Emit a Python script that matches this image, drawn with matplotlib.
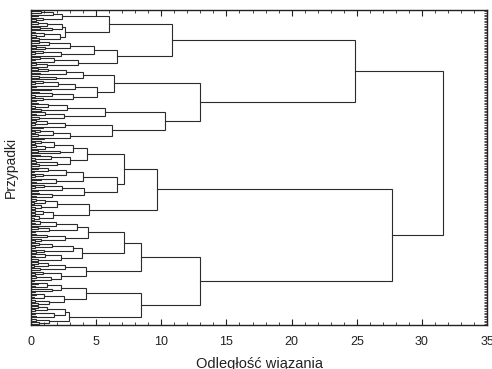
import matplotlib
matplotlib.use("Agg")
import matplotlib.pyplot as plt

plt.rcParams['font.family'] = ['Liberation Sans', 'DejaVu Sans']

# tree nodes are (linkage distance, upper child, lower child); 0 is a single case
A1a_top = (2.4, (1.7, (0.8, 0, 0), (0.5, 0, 0)), (0.9, 0, (0.4, 0, 0)))
A1a_bot = (2.6, (2.4, (1.2, (0.5, 0, 0), 0), (1.6, (0.7, 0, 0), 0)),
           (2.2, (1.0, (0.3, 0, 0), (0.4, 0, 0)), (0.6, 0, 0)))
A1b_top = (4.8, (3.0, (1.4, (0.6, 0, 0), 0), (1.1, (0.4, 0, 0), 0)),
           (2.3, (0.9, 0, (0.3, 0, 0)), 0))
A1b_bot = (3.6, (1.8, (0.7, 0, (0.3, 0, 0)), 0), (1.2, (0.4, 0, 0), 0))

A2a_top = (4.0, (2.7, (1.3, (0.5, 0, 0), 0), (0.7, 0, 0)), (1.9, (0.6, 0, 0), 0))
A2a_bot = (5.1, (3.4, (2.1, (0.9, 0, (0.3, 0, 0)), (0.4, 0, 0)), (1.5, 0, 0)),
           (3.2, (1.6, (0.6, 0, 0), (0.3, 0, 0)), (0.9, 0, (0.4, 0, 0))))
A2b_top = (5.7, (2.8, (1.3, (0.5, 0, 0), (0.3, 0, 0)), (0.8, 0, 0)),
           (2.5, (1.1, 0, (0.4, 0, 0)), (0.6, 0, 0)))
A2b_bot = (6.25, (2.6, (1.2, (0.4, 0, 0), (0.3, 0, 0)), (0.9, 0, 0)),
           (3.0, (1.7, (0.7, 0, (0.3, 0, 0)), (0.5, 0, 0)), (1.0, 0, 0)))

B1a_top = (4.3, (3.2, (1.8, (0.8, 0, (0.3, 0, 0)), (1.1, (0.4, 0, 0), 0)), (2.2, (0.5, 0, 0), 0)),
           (3.0, (1.5, (0.7, 0, 0), (0.3, 0, 0)), (2.0, (0.4, 0, 0), (0.6, 0, 0))))
B1a_bot_top = (4.0, (2.7, (1.3, (0.5, 0, 0), (0.2, 0, 0)), (0.9, 0, (0.3, 0, 0))),
               (1.9, (0.8, 0, 0), (0.4, 0, 0)))
B1a_bot_bot = (4.1, (2.4, (1.0, 0, (0.3, 0, 0)), (0.5, 0, 0)), (1.6, (0.6, 0, 0), (0.4, 0, 0)))
B1b = (4.46, (2.0, (1.1, (0.4, 0, 0), (0.2, 0, 0)), (0.8, 0, (0.3, 0, 0))),
       (1.7, (0.9, (0.3, 0, 0), (0.3, 0, 0)), (0.6, 0, (0.2, 0, 0))))

B2a_top_top = (4.35, (3.5, (1.9, (0.7, 0, (0.3, 0, 0)), 0), (1.4, (0.5, 0, 0), (0.3, 0, 0))),
               (2.6, (1.2, (0.4, 0, 0), 0), (0.8, 0, (0.3, 0, 0))))
B2a_top_bot = (3.95, (3.2, (1.6, (0.6, 0, 0), (0.3, 0, 0)), (1.0, 0, (0.4, 0, 0))),
               (2.3, (1.1, 0, (0.3, 0, 0)), (0.5, 0, 0)))
B2a_bot = (4.2, (2.6, (1.3, (0.5, 0, 0), (0.2, 0, 0)), (0.7, 0, 0)),
           (2.3, (0.9, 0, (0.3, 0, 0)), (1.5, (0.4, 0, 0), (0.2, 0, 0))))
B2b_top = (4.2, (2.3, (1.2, (0.5, 0, 0), (0.3, 0, 0)), (1.6, 0, (0.3, 0, 0))),
           (2.5, (1.0, (0.4, 0, 0), (0.2, 0, 0)), (1.4, (0.3, 0, 0), (0.5, 0, 0))))
B2b_bot = (2.9, (2.6, (1.2, (0.5, 0, 0), (0.3, 0, 0)), (1.8, (0.3, 0, 0), (0.4, 0, 0))),
           (1.4, (0.4, 0, 0), (0.6, 0, 0)))

A1 = (10.8, (5.95, A1a_top, A1a_bot), (6.6, A1b_top, A1b_bot))
A2 = (12.95, (6.4, A2a_top, A2a_bot), (10.25, A2b_top, A2b_bot))
B1 = (9.65, (7.15, B1a_top, (6.6, B1a_bot_top, B1a_bot_bot)), B1b)
B2 = (12.95, (8.45, (7.15, B2a_top_top, B2a_top_bot), B2a_bot), (8.45, B2b_top, B2b_bot))
root = (31.6, (24.9, A1, A2), (27.7, B1, B2))

x_ticks = [0, 5, 10, 15, 20, 25, 30, 35]

fig = plt.figure(figsize=(4.92, 3.69), dpi=100)
ax = fig.add_axes([0.063, 0.119, 0.927, 0.854])

line_col = '#2b2b2b'
leaf_count = [0]


def draw(node):
    if node == 0:
        y = leaf_count[0]
        leaf_count[0] += 1
        return y, 0.0
    h, upper, lower = node
    y1, h1 = draw(upper)
    y2, h2 = draw(lower)
    ax.plot([h1, h, h, h2], [y1, y1, y2, y2], color=line_col, lw=0.8,
            solid_joinstyle='miter')
    return (y1 + y2) / 2, h


draw(root)
n = leaf_count[0]

ax.set_xlim(0, 35)
ax.set_ylim(n - 1 + 0.9, -0.9)
ax.set_xticks(x_ticks)
ax.set_xticks(range(36), minor=True)
ax.set_yticks(range(n))
ax.set_yticklabels([])
ax.tick_params(axis='x', which='both', direction='in', top=True,
               labelsize=9, pad=8, colors='#222222')
ax.tick_params(axis='x', which='major', length=4)
ax.tick_params(axis='x', which='minor', length=2)
ax.tick_params(axis='y', which='both', direction='in', right=True, length=2,
               width=0.6, colors='#333333')
for s in ax.spines.values():
    s.set_color('#222222')
    s.set_linewidth(1.0)

ax.set_xlabel('Odległość wiązania', fontsize=10.5, color='#222222', labelpad=6)
ax.set_ylabel('Przypadki', fontsize=10, color='#222222')
ax.yaxis.set_label_coords(-0.028, 0.5)

fig.savefig('out.png', dpi=100)
